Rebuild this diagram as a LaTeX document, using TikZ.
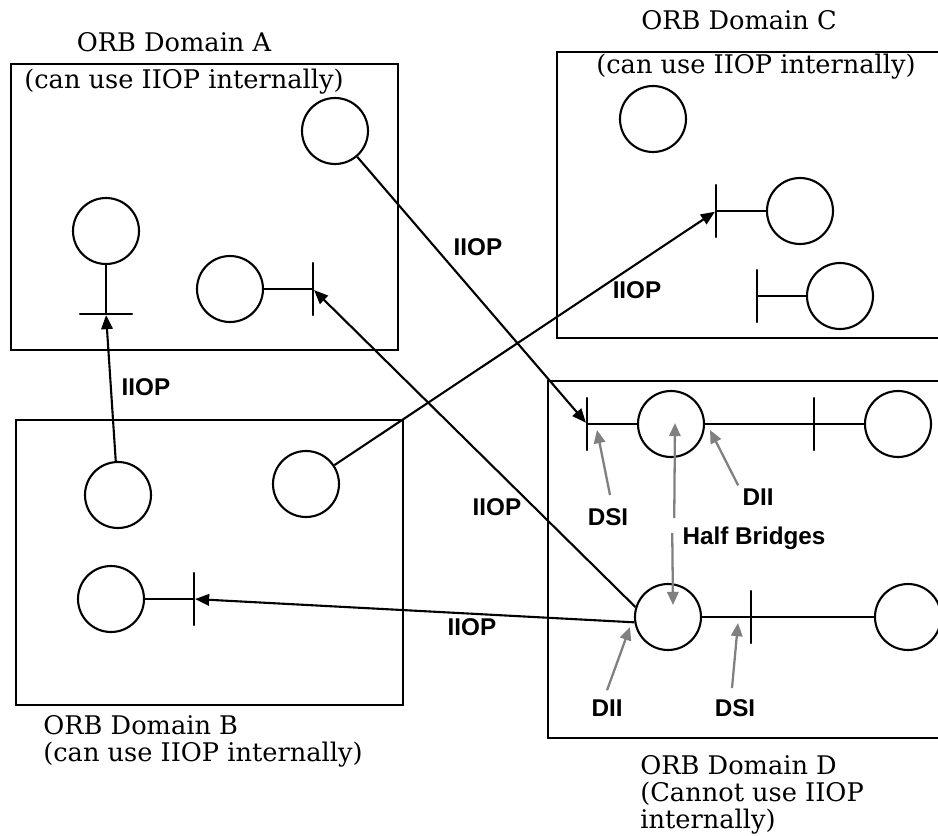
\documentclass[tikz,border=0pt]{standalone}
\usepackage{fontspec}
\setmainfont{DejaVu Serif}
\setsansfont{Liberation Sans}
\usepackage{tikz}
\usetikzlibrary{arrows.meta}

\begin{document}
\begin{tikzpicture}[x=0.02cm, y=-0.02cm,
                    every node/.style={inner sep=0pt},
                    obj/.style={draw, circle, line width=1.2pt, minimum size=1.32cm},
                    vbar/.style={draw, line width=1.2pt, line join=round, minimum height=1.04cm, minimum width=0pt},
                    hbar/.style={draw, line width=1.2pt, line join=round, minimum width=1.04cm, minimum height=0pt},
                    orbbox/.style={draw, line width=1.2pt},
                    orbtext/.style={font=\fontsize{14.6}{15.4}\selectfont, align=left},
                    proto/.style={font=\sffamily\bfseries\fontsize{13.8}{16}\selectfont},
                    iiop/.style={line width=1.2pt, -{Triangle[length=8pt,width=6.5pt]}},
                    hint/.style={draw=gray, line width=1.3pt, -{Triangle[length=7.5pt,width=6.5pt]}}]
  \useasboundingbox (0,0) rectangle (938,836);
  \clip (0,0) rectangle (938,836);

  \draw[orbbox] (11,64) rectangle (398,350);
  \draw[orbbox] (557,52) rectangle (960,338);
  \draw[orbbox] (16,420) rectangle (403,705);
  \draw[orbbox] (548,381) rectangle (960,738);

  \node[orbtext] (tA) at (174,42) {ORB Domain A};
  \node[orbtext] (sA) at (184,82) {(can use IIOP internally)};
  \node[orbtext] (tC) at (739,20) {ORB Domain C};
  \node[orbtext] (sC) at (756,67) {(can use IIOP internally)};
  \node[orbtext, anchor=west] (tB) at (43,741) {ORB Domain B\\(can use IIOP internally)};
  \node[orbtext, anchor=west] (tD) at (640,795) {ORB Domain D\\(Cannot use IIOP\\internally)};

  \node[obj] (A1) at (335,131) {};
  \node[obj] (A2) at (106,231) {};
  \node[obj] (A3) at (230,289) {};
  \node[hbar] (hA2) at (106,314) {};
  \node[vbar] (bA3) at (313,289) {};
  \draw[line width=1.2pt] (A2) -- (hA2);
  \draw[line width=1.2pt] (A3) -- (bA3);

  \node[obj] (C1) at (653,119) {};
  \node[obj] (C2) at (800,211) {};
  \node[obj] (C3) at (840,296) {};
  \node[vbar] (bC2) at (716,211) {};
  \node[vbar] (bC3) at (757,296) {};
  \draw[line width=1.2pt] (C2) -- (bC2);
  \draw[line width=1.2pt] (C3) -- (bC3);

  \node[obj] (B1) at (118,495) {};
  \node[obj] (B2) at (306,484) {};
  \node[obj] (B3) at (111,599) {};
  \node[vbar] (bB3) at (194,599) {};
  \draw[line width=1.2pt] (B3) -- (bB3);

  \node[obj] (D1) at (671,424) {};
  \node[obj] (D2) at (898,424) {};
  \node[obj] (D3) at (668,617) {};
  \node[obj] (D4) at (908,617) {};
  \node[vbar] (bD1) at (587,424) {};
  \node[vbar] (bD2) at (814,424) {};
  \node[vbar] (bD3) at (751,617) {};
  \draw[line width=1.2pt] (bD1) -- (D1) -- (bD2) -- (D2);
  \draw[line width=1.2pt] (D3) -- (bD3) -- (D4);

  \draw[iiop] (B1) -- (hA2);
  \draw[iiop] (A1) -- (bD1);
  \draw[iiop] (B2) -- (bC2);
  \draw[iiop] (D3.163) -- (bA3);
  \draw[iiop] (D3.189) -- (bB3);

  \node[proto] (p1) at (146,387) {IIOP};
  \node[proto] (p2) at (478,247) {IIOP};
  \node[proto] (p3) at (637,290) {IIOP};
  \node[proto] (p4) at (497,507) {IIOP};
  \node[proto] (p5) at (472,627) {IIOP};

  \node[proto] (lDSI1) at (608,517) {DSI};
  \node[proto] (lDII1) at (758,497) {DII};
  \node[proto] (lHB) at (754,538) {Half Bridges};
  \node[proto] (lDII2) at (607,708) {DII};
  \node[proto] (lDSI2) at (735,708) {DSI};

  \coordinate (hDSI1) at (597,430);
  \coordinate (hDII1) at (710,430);
  \coordinate (hHBup) at (675,423);
  \coordinate (hHBdown) at (673,605);
  \coordinate (hDII2) at (630,627);
  \coordinate (hDSI2) at (738,623);

  \draw[hint] ([shift={(2,-13)}]lDSI1.north) -- (hDSI1);
  \draw[hint] ([shift={(-4,-3)}]lDII1.north west) -- (hDII1);
  \draw[hint] ([shift={(-8,-20)}]lHB.west) -- (hHBup);
  \draw[hint] ([shift={(-10,-5)}]lHB.west) -- (hHBdown);
  \draw[hint] ([shift={(0,-9)}]lDII2.north) -- (hDII2);
  \draw[hint] ([shift={(-3,-11)}]lDSI2.north) -- (hDSI2);
\end{tikzpicture}
\end{document}
